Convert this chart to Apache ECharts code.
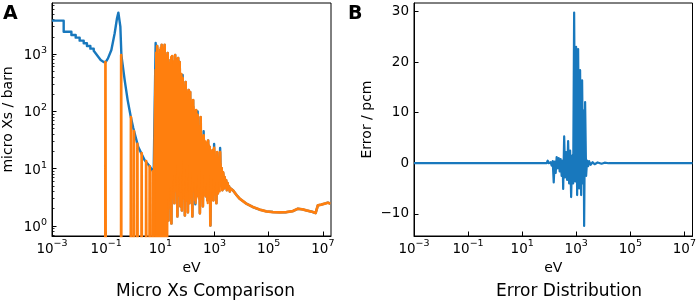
<!DOCTYPE html>
<html>
<head>
<meta charset="utf-8">
<script src="https://cdn.jsdelivr.net/npm/echarts@6/dist/echarts.min.js"></script>
<style>
  html, body { margin: 0; padding: 0; background: #fff; }
  #chart { width: 699px; height: 303px; }
</style>
</head>
<body>
<div id="chart"></div>
<script>
// Panel A, low energy part of the reference cross section (eV, barn)
const lowEnergy = [0.001, 0.0027, 0.0027, 0.0052, 0.0052, 0.0075, 0.0075, 0.0105, 0.0105, 0.0148, 0.0148,
  0.0195, 0.0195, 0.0261, 0.0261, 0.0347, 0.0347, 0.0485, 0.0627, 0.0809, 0.096, 0.1165, 0.1555, 0.206,
  0.251, 0.282, 0.334, 0.365, 0.482, 0.621, 0.802, 1.0, 1.52, 2.64, 4.03, 5.66];
const lowBlueXs = [3820, 3820, 2450, 2450, 2150, 2150, 1930, 1930, 1710, 1710, 1540, 1540, 1380, 1380, 1240,
  1240, 1140, 923, 785, 725, 725, 840, 1175, 2300, 4200, 5270, 3000, 950, 350, 157, 82, 51, 24, 14, 11, 8.6];

// orange curve below ~6 eV: zero except a few isolated spikes
const lowOrangeEnergy = [0.093, 0.094, 0.096, 0.356, 0.358, 0.362, 0.81, 0.822, 0.835, 1.05, 1.06, 1.08,
  1.4, 1.42, 1.45, 2.01, 2.04, 2.08, 2.95, 2.99, 3.05, 3.97, 4.03, 4.1, 5.1, 5.2, 5.3, 6.16];
const lowOrangeXs = [0.1, 725, 0.1, 0.1, 960, 0.1, 0.1, 79, 0.1, 0.1, 45, 0.1, 0.1, 27, 0.1, 0.1, 18.6, 0.1,
  0.1, 13.5, 0.1, 0.1, 11, 0.1, 0.1, 9, 0.1, 0.1];

// resolved resonance region
const resEnergy = [6.71, 7.15, 7.62, 8.12, 8.65, 9.22, 9.83, 10.5, 11.2, 11.9, 12.7, 13.5, 14.4, 15.4, 16.4,
  17.5, 18.6, 19.8, 21.1, 22.5, 24.0, 25.6, 27.2, 29.0, 31.0, 33.0, 35.2, 37.5, 39.9, 42.6, 45.4, 48.3, 51.5,
  54.9, 58.5, 62.4, 66.5, 70.8, 75.5, 80.5, 85.8, 91.4, 97.4, 104, 111, 118, 126, 134, 143, 152, 162, 173,
  184, 196, 209, 223, 238, 254, 270, 288, 307, 327, 349, 372, 396, 422, 450, 480, 511, 545, 580, 619, 659,
  703, 749, 798, 851, 906, 966, 1030, 1100, 1170, 1250, 1330, 1420, 1510, 1610, 1710, 1830, 1950, 2070,
  2210, 2360, 2510, 2680, 2850, 3040, 3240, 3450, 3680, 3920];
const resOrangeXs = [525, 0.1, 1380, 0.1, 785, 0.1, 1175, 1.53, 1440, 0.1, 1080, 0.1, 1440, 2.3, 850, 0.1,
  1040, 1.25, 430, 2.8, 785, 1.11, 920, 4.2, 287, 2.5, 960, 5.1, 700, 1.47, 850, 3.4, 724, 2.2, 396, 1.87,
  380, 6.3, 192, 1.53, 324, 2.8, 157, 1.73, 235, 2.5, 217, 4.2, 70, 1.47, 157, 7.7, 57, 2.8, 105, 3.3, 86,
  5.1, 31, 1.66, 79, 4.2, 21, 2.2, 38, 5.1, 29, 3.3, 14, 2.8, 31, 6.3, 24, 1.02, 11.5, 4.2, 21, 2.8, 23,
  5.1, 11.5, 2.5, 19.4, 3.7, 9.4, 6.8, 19.4, 5.1, 10.2, 4.2, 8.6, 4.5, 7.1, 4.9, 6.3, 4.2, 5.6, 4.5, 4.9,
  4.0, 4.5];
const resBlueXs = [1560, 1.2, 1380, 1.2, 785, 1.2, 1175, 1.53, 1440, 1.2, 1080, 1.2, 1440, 2.3, 850, 1.2,
  1040, 1.25, 430, 2.8, 785, 1.11, 920, 4.2, 287, 2.5, 960, 5.1, 800, 1.47, 850, 3.4, 724, 2.2, 396, 1.87,
  430, 6.3, 192, 1.53, 324, 2.8, 157, 1.73, 235, 2.5, 217, 4.2, 70, 1.47, 157, 7.7, 57, 2.4, 105, 3.3, 100,
  5.1, 31, 1.66, 79, 4.2, 21, 2.2, 45, 5.1, 29, 3.3, 14, 2.8, 31, 6.3, 24, 1.02, 11.5, 4.2, 21, 2.8, 27,
  4.4, 11.5, 2.5, 19.4, 3.7, 9.4, 6.8, 23, 5.1, 10.2, 4.2, 8.6, 4.5, 7.1, 4.9, 6.3, 4.2, 5.6, 4.5, 4.9,
  4.0, 4.5];

// finer resonances of the orange curve, lying between the ones above
const fineEnergy = [6.93, 7.38, 7.87, 8.38, 8.93, 9.52, 10.2, 10.8, 11.5, 12.3, 13.1, 13.9, 14.9, 15.9, 16.9,
  18.0, 19.2, 20.4, 21.8, 23.2, 24.8, 26.4, 28.1, 30.0, 32.0, 34.1, 36.3, 38.7, 41.2, 44.0, 46.8, 49.9, 53.2,
  56.7, 60.4, 64.4, 68.6, 73.1, 78.0, 83.1, 88.6, 94.4, 101, 107, 114, 122, 130, 138, 147, 157, 167, 178,
  190, 202, 216, 230, 246, 262, 279, 297, 317, 338, 360, 384, 409, 436, 465, 495, 528, 562, 599, 639, 681,
  725, 773, 824, 878, 935, 997, 1060, 1130, 1210, 1290, 1370, 1460, 1560, 1660, 1770, 1890, 2010, 2140,
  2280, 2430, 2590, 2760, 2940, 3140, 3340, 3560, 3800];
const fineXs = [1100, 0.1, 1250, 0.1, 1000, 0.1, 1300, 0.1, 1200, 0.1, 1300, 0.1, 1000, 0.1, 950, 3.0, 800,
  2.0, 700, 5.0, 880, 3.0, 600, 8.0, 750, 4.0, 850, 12, 780, 3.5, 650, 9, 560, 4, 450, 15, 330, 3, 280, 10,
  250, 4, 220, 12, 190, 3, 160, 9, 140, 4, 120, 6, 100, 2.5, 90, 8, 70, 3, 55, 10, 45, 3, 35, 8, 33, 3.5,
  30, 6, 28, 2.5, 26, 8, 22, 3, 20, 7, 18, 3.5, 20, 6, 16, 3.5, 15, 6, 14, 4, 12, 6, 9, 4.5, 8, 5, 6.5, 4.6,
  5.8, 4.4, 5.2, 4.4, 4.6, 4.3];

// smooth part above the resonances, both curves
const tailEnergy = [4780, 6370, 8430, 14900, 26100, 46100, 81500, 143000, 252000, 446000, 782000, 1190000,
  1780000, 2440000, 4280000, 5380000, 6530000, 8730000, 11600000, 15300000, 19200000, 20000000];
const tailXs = [4.2, 3.5, 3.0, 2.45, 2.14, 1.93, 1.8, 1.75, 1.73, 1.74, 1.82, 2.0, 1.95, 1.87, 1.75, 1.68,
  2.29, 2.36, 2.45, 2.55, 2.45, 2.5];

// Panel B, error in pcm
const errEnergy = [0.001, 81, 88, 95, 113, 124, 135, 147, 160, 174, 189, 206, 224, 244, 265, 289, 315, 329,
  358, 389, 424, 461, 501, 547, 595, 648, 706, 769, 837, 911, 991, 1080, 1175, 1280, 1390, 1520, 1650, 1800,
  1880, 1960, 2130, 2320, 2520, 2750, 2990, 3400, 4030, 4780, 6170, 8650, 11200, 15700, 20000000];
const errValue = [0, 0, 0.5, 0, 0.2, -0.5, 0.4, -3.8, 0.3, -1.9, 1.2, -1.0, 1.0, -1.6, 0.8, -2.5, 0.5, -5.1,
  5.3, -2.8, 2.2, -3.3, 4.4, -4.0, 2.5, -6.7, 1.5, -4.0, 29.8, -3.6, 23.0, -6.3, 22.6, -5.0, 18.4, -6.3, 16.4,
  -4.0, 10.4, -12.4, 12.1, -2.5, 0.5, -0.6, 0.4, -0.3, 0.2, -0.2, 0.15, -0.1, 0.1, 0, 0];

const xTickExps = [-3, -1, 1, 3, 5, 7];
const yTickExps = [0, 1, 2, 3];
const errTicks = [-10, 0, 10, 20, 30];

const BLUE = '#1878bd';
const ORANGE = '#ff7f0e';
const FONT = "'DejaVu Sans', sans-serif";

function logPairs(xs, ys) {
  return xs.map((x, i) => [Math.log10(x), Math.log10(ys[i])]);
}

const minorLogs = [];
for (let n = -1; n <= 3; n++) {
  for (let k = 2; k <= 9; k++) {
    const v = n + Math.log10(k);
    if (v > -0.175 && v < 3.89) minorLogs.push(v);
  }
}

const powRich = {
  b: { fontSize: 13.5, fontFamily: FONT, color: '#000', verticalAlign: 'bottom', lineHeight: 17 },
  s: { fontSize: 9.5, fontFamily: FONT, color: '#000', verticalAlign: 'top', lineHeight: 11 },
};
const powLabel = (v) => {
  const e = Math.round(v);
  return '{b|10}{s|' + (e < 0 ? '\u2212' + (-e) : e) + '}';
};

function logXAxis(gridIndex) {
  return {
    gridIndex,
    type: 'value',
    min: -3,
    max: 7.3,
    name: 'eV',
    nameLocation: 'middle',
    nameGap: 21,
    nameTextStyle: { fontSize: 14, fontFamily: FONT, color: '#000' },
    axisLine: { show: true, onZero: false, lineStyle: { color: '#000', width: 1 } },
    axisTick: { show: true, inside: true, length: 4.5, customValues: xTickExps, lineStyle: { color: '#000' } },
    axisLabel: { customValues: xTickExps, formatter: powLabel, rich: powRich, margin: 3 },
    splitLine: { show: false },
  };
}

const blueData = logPairs(lowEnergy, lowBlueXs)
  .concat(logPairs(resEnergy, resBlueXs), logPairs(tailEnergy, tailXs));
const orangeData = logPairs(lowOrangeEnergy, lowOrangeXs)
  .concat(logPairs(resEnergy, resOrangeXs), logPairs(tailEnergy, tailXs));
const fineData = logPairs(fineEnergy, fineXs);
const errData = errEnergy.map((e, i) => [Math.log10(e), errValue[i]]);

const chart = echarts.init(document.getElementById('chart'), null, { renderer: 'canvas' });

chart.setOption({
  animation: false,
  backgroundColor: '#fff',
  textStyle: { fontFamily: FONT },
  grid: [
    { left: 52, top: 3, width: 279, height: 233, show: true, borderColor: '#000', borderWidth: 1, backgroundColor: 'transparent' },
    { left: 414, top: 3, width: 279, height: 233, show: true, borderColor: '#000', borderWidth: 1, backgroundColor: 'transparent' },
  ],
  xAxis: [logXAxis(0), logXAxis(1)],
  yAxis: [
    {
      gridIndex: 0,
      type: 'value',
      position: 'left',
      min: -0.175,
      max: 3.89,
      name: 'micro Xs / barn',
      nameLocation: 'middle',
      nameGap: 37,
      nameTextStyle: { fontSize: 14, fontFamily: FONT, color: '#000' },
      axisLine: { show: true, onZero: false, lineStyle: { color: '#000', width: 1 } },
      axisTick: { show: true, inside: true, length: 4.5, customValues: yTickExps, lineStyle: { color: '#000' } },
      axisLabel: { customValues: yTickExps, formatter: powLabel, rich: powRich, margin: 5 },
      splitLine: { show: false },
    },
    {
      // minor log ticks
      gridIndex: 0,
      type: 'value',
      position: 'left',
      offset: 0,
      min: -0.175,
      max: 3.89,
      axisLine: { show: false, onZero: false },
      axisTick: { show: true, inside: true, length: 2.5, customValues: minorLogs, lineStyle: { color: '#000', width: 0.8 } },
      axisLabel: { show: false },
      splitLine: { show: false },
    },
    {
      gridIndex: 1,
      type: 'value',
      position: 'left',
      min: -14.4,
      max: 31.7,
      name: 'Error / pcm',
      nameLocation: 'middle',
      nameGap: 40,
      nameTextStyle: { fontSize: 14, fontFamily: FONT, color: '#000' },
      axisLine: { show: true, onZero: false, lineStyle: { color: '#000', width: 1 } },
      axisTick: { show: true, inside: true, length: 4.5, customValues: errTicks, lineStyle: { color: '#000' } },
      axisLabel: { customValues: errTicks, fontSize: 13.5, fontFamily: FONT, color: '#000', margin: 5,
        formatter: (v) => (v < 0 ? '\u2212' + (-v) : String(v)) },
      splitLine: { show: false },
    },
  ],
  graphic: [
    { type: 'text', x: 3, y: 14, style: { text: 'A', fontSize: 19, fontWeight: 'bold', fontFamily: FONT, fill: '#000', verticalAlign: 'middle' } },
    { type: 'text', x: 348, y: 14, style: { text: 'B', fontSize: 19, fontWeight: 'bold', fontFamily: FONT, fill: '#000', verticalAlign: 'middle' } },
    { type: 'text', x: 205.5, y: 292, style: { text: 'Micro Xs Comparison', fontSize: 17, fontFamily: FONT, fill: '#000', align: 'center', verticalAlign: 'middle' } },
    { type: 'text', x: 569, y: 292, style: { text: 'Error Distribution', fontSize: 17, fontFamily: FONT, fill: '#000', align: 'center', verticalAlign: 'middle' } },
  ],
  series: [
    {
      type: 'line',
      name: 'reference',
      xAxisIndex: 0,
      yAxisIndex: 0,
      data: blueData,
      showSymbol: false,
      clip: true,
      z: 2,
      lineStyle: { color: BLUE, width: 2.4, join: 'round' },
    },
    {
      type: 'line',
      name: 'comparison',
      xAxisIndex: 0,
      yAxisIndex: 0,
      data: orangeData,
      showSymbol: false,
      clip: true,
      z: 3,
      lineStyle: { color: ORANGE, width: 2.7, join: 'round' },
    },
    {
      type: 'line',
      name: 'comparison',
      xAxisIndex: 0,
      yAxisIndex: 0,
      data: fineData,
      showSymbol: false,
      clip: true,
      z: 3,
      lineStyle: { color: ORANGE, width: 2.2, join: 'round' },
    },
    {
      type: 'line',
      name: 'error',
      xAxisIndex: 1,
      yAxisIndex: 2,
      data: errData,
      showSymbol: false,
      clip: true,
      lineStyle: { color: BLUE, width: 2.2, join: 'round' },
    },
  ],
});
</script>
</body>
</html>
